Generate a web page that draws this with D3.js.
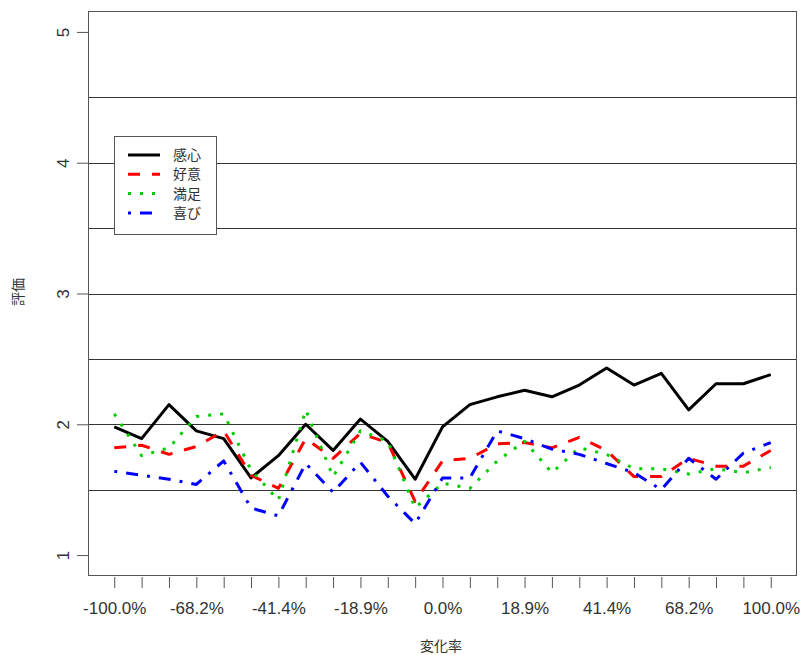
<!DOCTYPE html>
<html><head><meta charset="utf-8">
<script src="https://cdn.jsdelivr.net/npm/d3@7"></script>
<style>body{margin:0;background:#fff;} svg{display:block;}</style>
</head><body>
<script>
const seriesNames = ["感心", "好意", "満足", "喜び"];
const kanshin = [1.98,1.89,2.15,1.95,1.89,1.59,1.76,2.00,1.80,2.04,1.87,1.58,1.98,2.15,2.21,2.26,2.21,2.30,2.43,2.30,2.39,2.11,2.31,2.31,2.38];
const koui    = [1.82,1.84,1.77,1.83,1.95,1.61,1.51,1.89,1.74,1.93,1.86,1.41,1.72,1.74,1.85,1.86,1.82,1.90,1.80,1.60,1.60,1.74,1.68,1.68,1.80];
const manzoku = [2.08,1.76,1.82,2.06,2.08,1.65,1.42,2.11,1.60,1.95,1.87,1.36,1.55,1.51,1.72,1.87,1.63,1.82,1.77,1.66,1.66,1.62,1.66,1.63,1.67];
const yorokobi= [1.64,1.61,1.58,1.54,1.72,1.36,1.30,1.70,1.48,1.71,1.45,1.24,1.59,1.59,1.95,1.89,1.81,1.77,1.70,1.63,1.50,1.74,1.58,1.78,1.86];
const tickLabels = ["-100.0%","-68.2%","-41.4%","-18.9%","0.0%","18.9%","41.4%","68.2%","100.0%"];
const yTicks = [1,2,3,4,5];
const gridValues = [1.5,2,2.5,3,3.5,4,4.5];
const xTitle = "変化率", yTitle = "評価";

const W = 800, H = 655;
const box = {l:88, r:797, t:11, b:576};
const n = kanshin.length;
const x = d3.scaleLinear().domain([-0.96, n-1+0.96]).range([box.l, box.r]);
const y = d3.scaleLinear().domain([0.84, 5.16]).range([box.b, box.t]);

const svg = d3.select("body").append("svg").attr("width", W).attr("height", H);
const font = "'Liberation Sans', Arial, sans-serif";
const cjk = "'Noto Sans CJK JP', sans-serif";

// grid lines
svg.append("g").selectAll("line").data(gridValues).join("line")
  .attr("x1", box.l).attr("x2", box.r)
  .attr("y1", d=>Math.round(y(d))+0.5).attr("y2", d=>Math.round(y(d))+0.5)
  .attr("stroke", "#333").attr("stroke-width", 1);

// lines
const series = [
  {name: seriesNames[0], vals: kanshin, color:"#000000", dash:null},
  {name: seriesNames[1], vals: koui, color:"#ff0000", dash:"12,12"},
  {name: seriesNames[2], vals: manzoku, color:"#00cd00", dash:"3,9"},
  {name: seriesNames[3], vals: yorokobi, color:"#0000ff", dash:"3,9,12,9"}
];
const line = d3.line().x((d,i)=>x(i)).y(d=>y(d));
const gLines = svg.append("g");
series.forEach(s=>{
  gLines.append("path").datum(s.vals).attr("d", line)
    .attr("fill","none").attr("stroke", s.color).attr("stroke-width", 3)
    .attr("stroke-linejoin","round").attr("stroke-linecap","butt")
    .attr("stroke-dasharray", s.dash);
});

// box
svg.append("rect").attr("x", box.l+0.5).attr("y", box.t+0.5)
  .attr("width", box.r-box.l-1).attr("height", box.b-box.t-1)
  .attr("fill","none").attr("stroke","#555").attr("stroke-width",1);

// x axis
const xAxis = d3.axisBottom(x).tickValues(d3.range(n)).tickSize(11).tickSizeOuter(0)
  .tickFormat(i => i%3===0 ? tickLabels[i/3] : "");
const gx = svg.append("g").attr("transform", `translate(0,${box.b+1})`).call(xAxis);
gx.select(".domain").remove();
gx.selectAll("line").attr("stroke","#555");
gx.selectAll("text").attr("font-family", font).attr("font-size", 17).attr("fill","#333").attr("dy","1.35em");

// y axis
const yAxis = d3.axisLeft(y).tickValues(yTicks).tickSize(11).tickSizeOuter(0).tickFormat(d3.format("d"));
const gy = svg.append("g").attr("transform", `translate(${box.l},0)`).call(yAxis);
gy.select(".domain").remove();
gy.selectAll("line").attr("stroke","#555");
gy.selectAll("text").attr("font-family", font).attr("font-size", 17).attr("fill","#333")
  .attr("x", null).attr("dy", null)
  .attr("transform", "translate(-25,0) rotate(-90)").attr("text-anchor","middle").attr("dominant-baseline","auto")
  .attr("y", 0).attr("dy", "0.35em");

// titles
svg.append("text").attr("x", 441).attr("y", 651).attr("text-anchor","middle")
  .attr("font-family", cjk).attr("font-size", 14).attr("fill","#333").text(xTitle);
svg.append("text").attr("transform","translate(23,292) rotate(-90)").attr("text-anchor","middle")
  .attr("font-family", cjk).attr("font-size", 14).attr("fill","#333").text(yTitle);

// legend
const lg = svg.append("g");
lg.append("rect").attr("x",114.5).attr("y",136.5).attr("width",102).attr("height",98)
  .attr("fill","#fff").attr("stroke","#555").attr("stroke-width",1);
series.forEach((s,i)=>{
  const yy = 155 + i*19.3;
  lg.append("line").attr("x1",128).attr("x2",160).attr("y1",yy).attr("y2",yy)
    .attr("stroke", s.color).attr("stroke-width",3).attr("stroke-dasharray", s.dash);
  lg.append("text").attr("x",173).attr("y",yy).attr("dy","0.36em")
    .attr("font-family", cjk).attr("font-size", 14).attr("fill","#333").text(s.name);
});
</script>
</body></html>
